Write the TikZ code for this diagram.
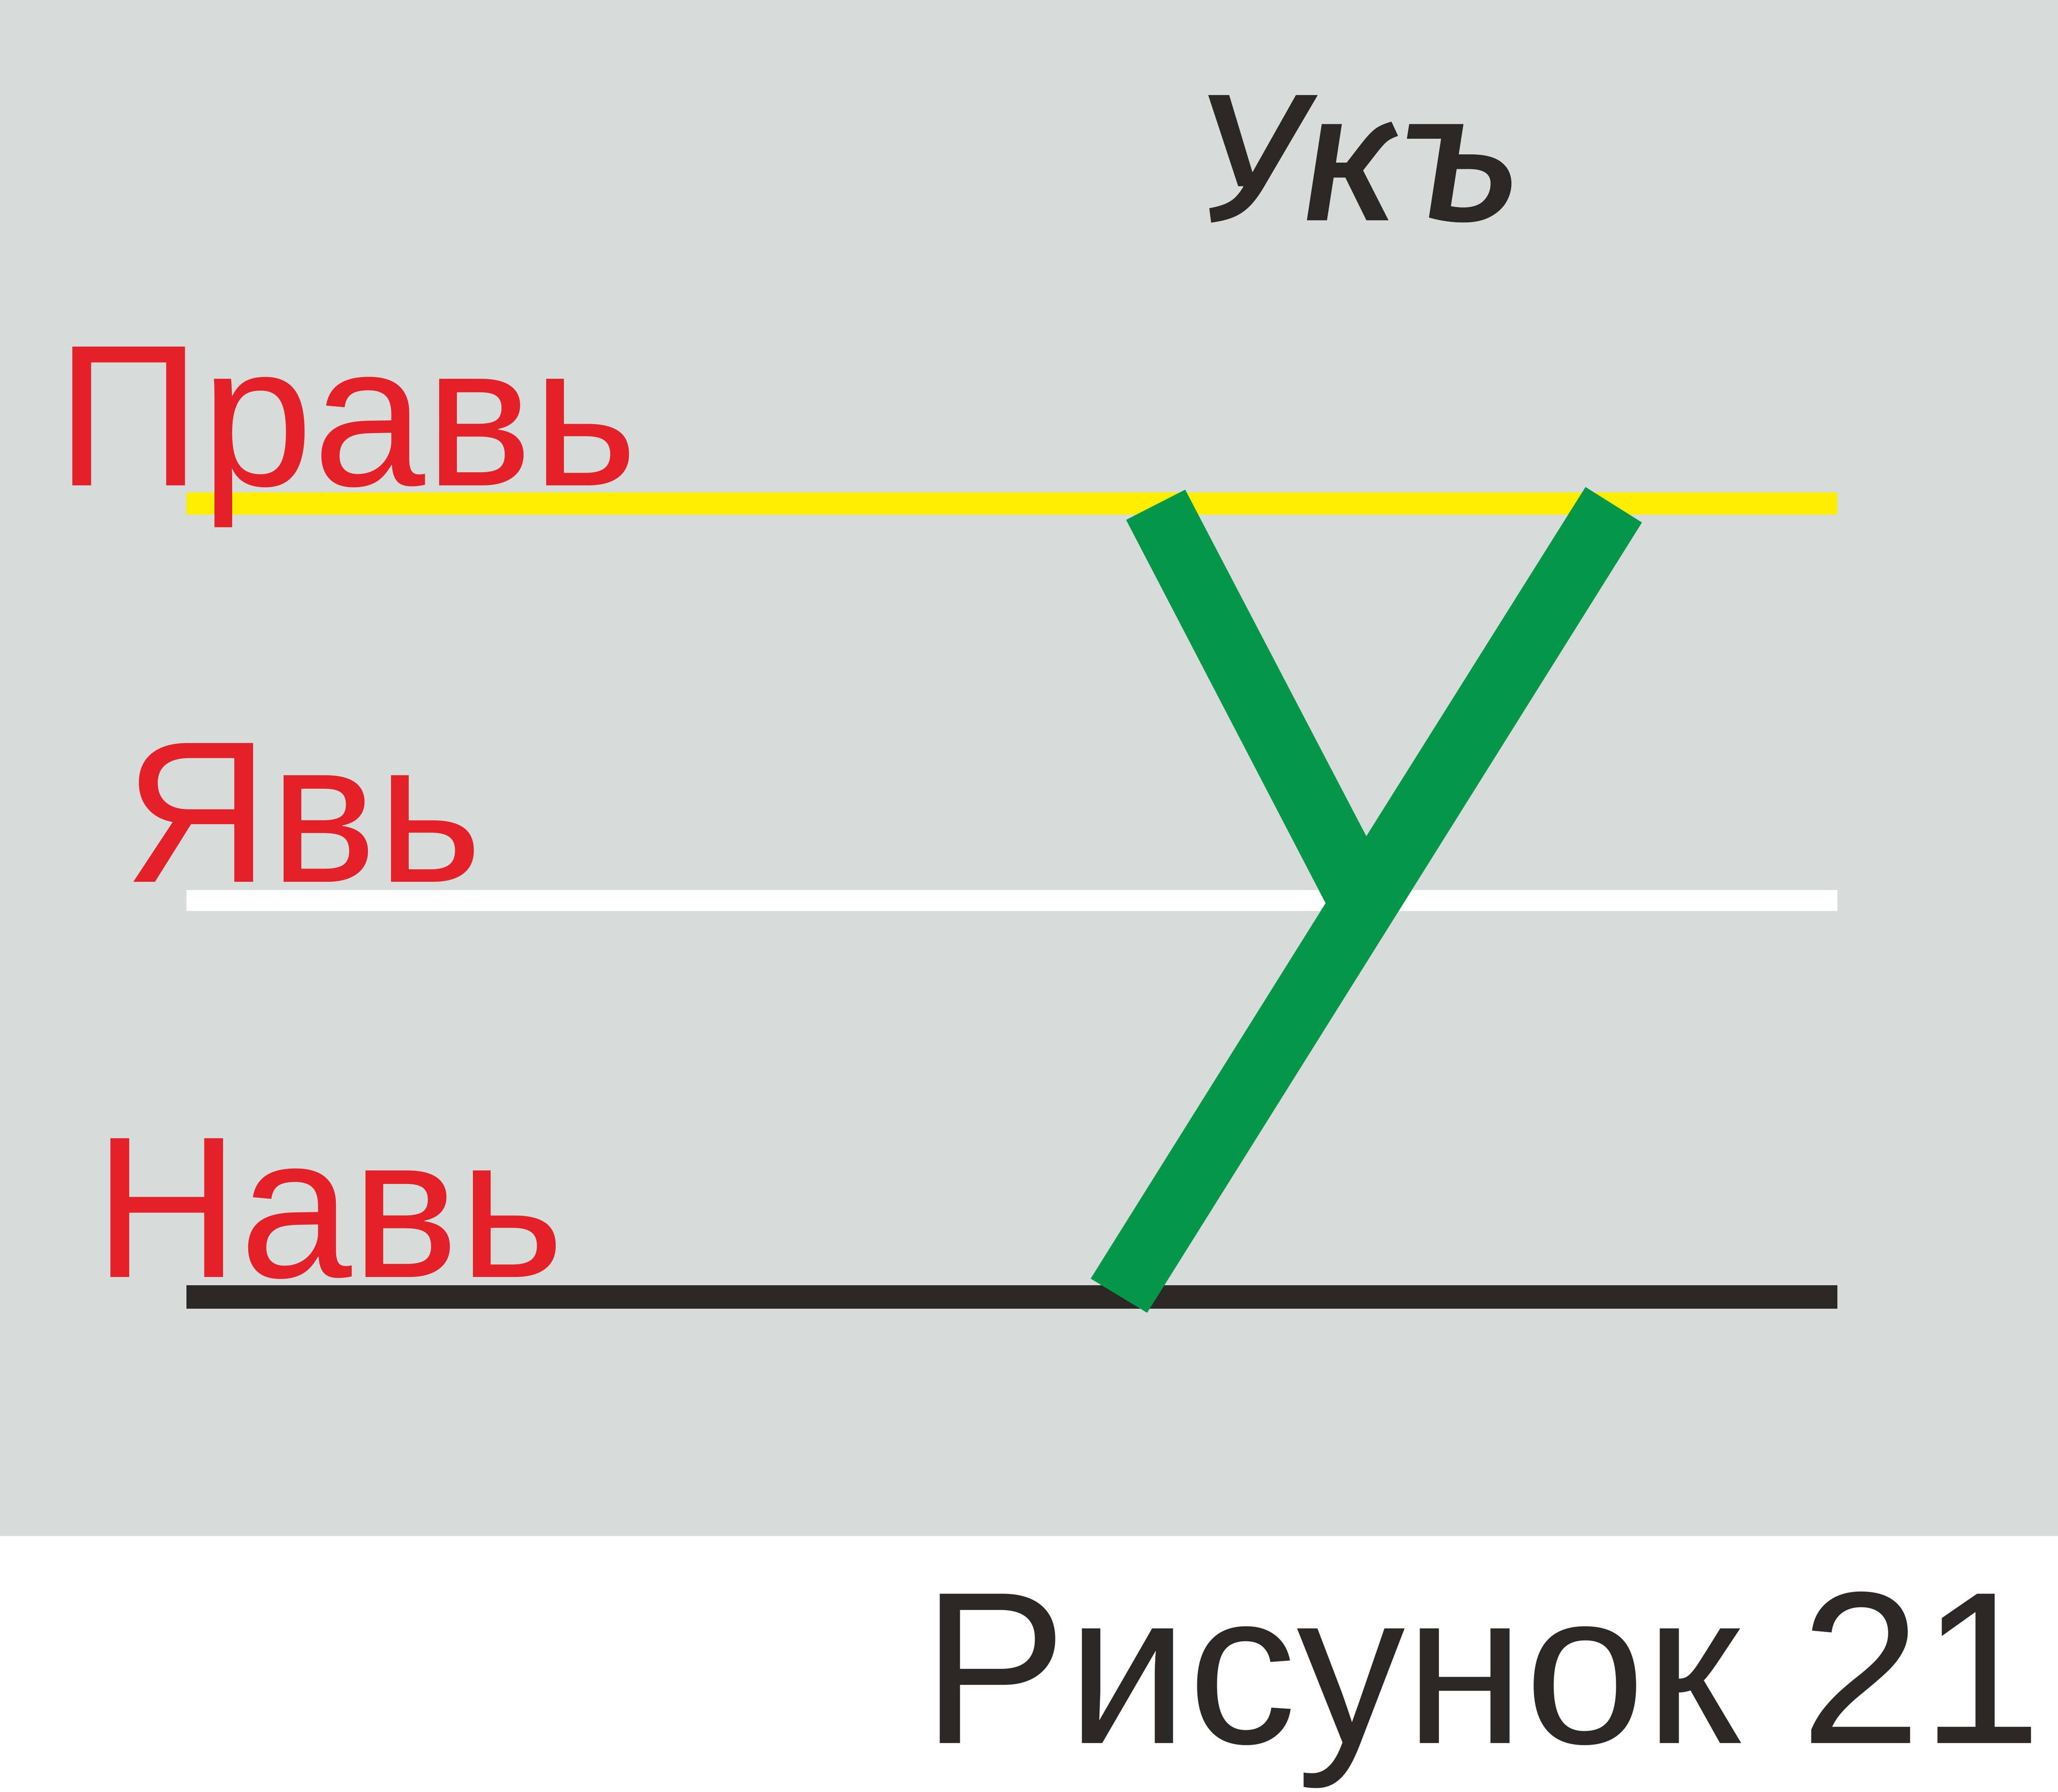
\documentclass[tikz,border=0pt]{standalone}
\usepackage{fontspec}
\setmainfont{Liberation Sans}
\newfontfamily\ukfont[FakeStretch=1.1,FakeBold=1.2]{Fira Sans}
\definecolor{bggray}{HTML}{D7DBDA}
\definecolor{redtxt}{HTML}{E42128}
\definecolor{ylw}{HTML}{FFED00}
\definecolor{grn}{HTML}{03974A}
\definecolor{blk}{HTML}{2B2826}
\tikzset{
  lbl/.style={inner sep=0pt, anchor=base west, text=redtxt, font=\fontsize{43.7}{50}\selectfont},
  rule/.style={line width=0.17cm}
}
\begin{document}
\begin{tikzpicture}[x=0.01cm,y=-0.01cm]
\useasboundingbox (0,0) rectangle (1568,1365);
\fill[white] (0,0) rectangle (1568,1365);
\fill[bggray] (0,0) rectangle (1568,1170);
% guide lines
\coordinate (ya) at (142,383.5); \coordinate (yb) at (1400,383.5);
\coordinate (wa) at (142,686); \coordinate (wb) at (1400,686);
\coordinate (ba) at (142,988); \coordinate (bb) at (1400,988);
\draw[ylw, line width=0.17cm] (ya) -- (yb);
\draw[white, line width=0.16cm] (wa) -- (wb);
\draw[blk, line width=0.18cm] (ba) -- (bb);
% green letter
\fill[grn] (858,396) -- (903,373) -- (1041,637) -- (1208,371) -- (1251,398) -- (874,1000) -- (831,974) -- (1010,688) -- cycle;
% labels
\node[lbl] (prav) at (42,370) {Правь};
\node[lbl] (yav) at (94,672) {Явь};
\node[lbl] (nav) at (71,973) {Навь};
\node[inner sep=0pt, anchor=base west, text=blk, font=\ukfont\itshape\fontsize{38.7}{44}\selectfont] (uk) at (912,167) {Укъ};
\node[inner sep=0pt, anchor=base west, text=blk, font=\fontsize{47}{55}\selectfont] (fig) at (702,1328) {Рисунок 21};
\end{tikzpicture}
\end{document}
